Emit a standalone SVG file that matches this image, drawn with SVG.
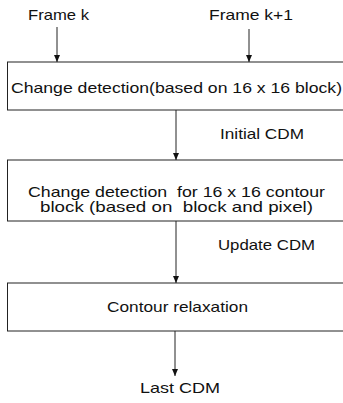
<svg xmlns="http://www.w3.org/2000/svg" width="343" height="403" viewBox="0 0 343 403">
<style>
.box{fill:#fff;stroke:#222;stroke-width:1}
.lbl{font-family:"Liberation Sans",Arial,sans-serif;font-size:14.5px;fill:#111;white-space:pre}
.conn{stroke:#222;stroke-width:1;fill:none;marker-end:url(#ah)}
</style>
<defs>
<marker id="ah" markerUnits="userSpaceOnUse" markerWidth="8" markerHeight="8" refX="7" refY="3.5" orient="auto">
<path d="M0,0.5 L7,3.5 L0,6.5 z" fill="#111"/>
</marker>
</defs>
<rect width="343" height="403" fill="#fff"/>
<g id="connectors">
<line class="conn" x1="57" y1="27" x2="57" y2="62"/>
<line class="conn" x1="249" y1="29" x2="249" y2="62"/>
<line class="conn" x1="176" y1="110" x2="176" y2="160"/>
<line class="conn" x1="176" y1="221" x2="176" y2="283"/>
<line class="conn" x1="175" y1="331" x2="175" y2="376"/>
</g>
<g id="frame-k"><text class="lbl" x="28" y="19.5" textLength="61" lengthAdjust="spacingAndGlyphs">Frame k</text></g>
<g id="frame-k1"><text class="lbl" x="209" y="19.5" textLength="84" lengthAdjust="spacingAndGlyphs">Frame k+1</text></g>
<g id="box1">
<rect class="box" x="7.5" y="62" width="340" height="48"/>
<text class="lbl" x="11" y="92.5" textLength="331" lengthAdjust="spacingAndGlyphs">Change detection(based on 16 x 16 block)</text>
</g>
<g id="initial-cdm"><text class="lbl" x="220" y="139" textLength="84" lengthAdjust="spacingAndGlyphs">Initial CDM</text></g>
<g id="box2">
<rect class="box" x="7.5" y="160" width="340" height="61"/>
<text class="lbl" x="28" y="196.5" textLength="297" lengthAdjust="spacingAndGlyphs">Change detection  for 16 x 16 contour</text>
<text class="lbl" x="40" y="211.5" textLength="273" lengthAdjust="spacingAndGlyphs">block (based on  block and pixel)</text>
</g>
<g id="update-cdm"><text class="lbl" x="218" y="250" textLength="97" lengthAdjust="spacingAndGlyphs">Update CDM</text></g>
<g id="box3">
<rect class="box" x="7.5" y="283" width="340" height="48"/>
<text class="lbl" x="107" y="311.5" textLength="141" lengthAdjust="spacingAndGlyphs">Contour relaxation</text>
</g>
<g id="last-cdm"><text class="lbl" x="140" y="393" textLength="80" lengthAdjust="spacingAndGlyphs">Last CDM</text></g>
</svg>
